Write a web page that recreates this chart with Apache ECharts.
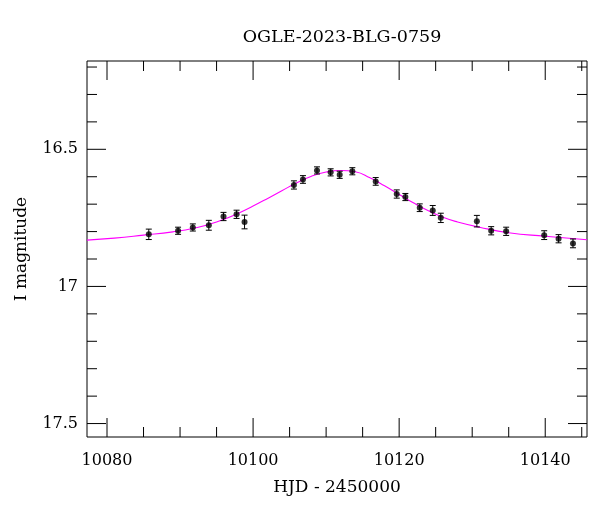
<!DOCTYPE html>
<html>
<head>
<meta charset="utf-8">
<script src="https://cdn.jsdelivr.net/npm/echarts@6/dist/echarts.min.js"></script>
<style>
html,body{margin:0;padding:0;background:#fff;}
#chart{width:600px;height:512px;}
</style>
</head>
<body>
<div id="chart"></div>
<script>
// ---- data ----
const obsTime = [10085.72, 10089.73, 10091.75, 10093.94, 10095.95, 10097.74, 10098.83,
  10105.59, 10106.83, 10108.75, 10110.62, 10111.86, 10113.59, 10116.79, 10119.67,
  10120.85, 10122.82, 10124.60, 10125.70, 10130.64, 10132.60, 10134.65, 10139.86,
  10141.83, 10143.80];
const obsMag = [16.810, 16.797, 16.785, 16.777, 16.745, 16.737, 16.765,
  16.630, 16.610, 16.577, 16.584, 16.593, 16.580, 16.617, 16.663,
  16.674, 16.713, 16.723, 16.750, 16.762, 16.797, 16.799, 16.813,
  16.826, 16.843];
const obsErr = [0.019, 0.013, 0.013, 0.018, 0.015, 0.015, 0.025,
  0.015, 0.014, 0.013, 0.013, 0.013, 0.013, 0.014, 0.015,
  0.013, 0.014, 0.018, 0.017, 0.021, 0.015, 0.015, 0.016,
  0.015, 0.016];

const modelTime = [10077.26, 10081, 10085, 10089, 10092, 10095, 10098, 10100, 10102,
  10104, 10106, 10108, 10110, 10112, 10114, 10116, 10118, 10120, 10122, 10124,
  10126, 10128, 10131, 10135, 10140, 10145.72];
const modelMag = [16.831, 16.824, 16.813, 16.801, 16.787, 16.765, 16.733, 16.707, 16.679,
  16.650, 16.622, 16.598, 16.583, 16.577, 16.582, 16.604, 16.633, 16.665, 16.696, 16.724,
  16.748, 16.765, 16.784, 16.804, 16.817, 16.830];

const xMajorTicks = [10080, 10100, 10120, 10140];
const xTickLabels = ['10080', '10100', '10120', '10140'];
const xMinorTicks = [10085, 10090, 10095, 10105, 10110, 10115, 10125, 10130, 10135, 10145];
const yMajorTicks = [16.5, 17, 17.5];
const yTickLabels = ['16.5', '17', '17.5'];
const yMinorTicks = [16.2, 16.3, 16.4, 16.6, 16.7, 16.8, 16.9, 17.1, 17.2, 17.3, 17.4];

const X_MIN = 10077.26, X_MAX = 10145.72;
const Y_MIN = 16.178, Y_MAX = 17.549;

// ---- style ----
const FONT = '"DejaVu Serif", serif';
const MAJOR_LEN = 19, MINOR_LEN = 10;

const obsData = obsTime.map((t, i) => [t, obsMag[i]]);
const errData = obsTime.map((t, i) => [t, obsMag[i], obsErr[i]]);
const modelData = modelTime.map((t, i) => [t, modelMag[i]]);
const xTickData = xMajorTicks.map((v, i) => [v, 1, i]).concat(xMinorTicks.map(v => [v, 0, -1]));
const yTickData = yMajorTicks.map((v, i) => [v, 1, i]).concat(yMinorTicks.map(v => [v, 0, -1]));

const lineStyle = {stroke: '#000', lineWidth: 1};

const chart = echarts.init(document.getElementById('chart'), null, {renderer: 'canvas'});
chart.setOption({
  backgroundColor: '#fff',
  animation: false,
  title: {
    text: 'OGLE-2023-BLG-0759',
    left: 337, top: 23, textAlign: 'center',
    textStyle: {fontFamily: FONT, fontSize: 17.5, fontWeight: 'normal', color: '#000'}
  },
  grid: {left: 87, right: 13, top: 61, bottom: 75, show: true, borderColor: '#000', borderWidth: 1, backgroundColor: 'transparent'},
  xAxis: {
    type: 'value', min: X_MIN, max: X_MAX,
    axisLine: {show: false}, axisTick: {show: false}, axisLabel: {show: false}, splitLine: {show: false},
    name: 'HJD - 2450000', nameLocation: 'middle', nameGap: 42,
    nameTextStyle: {fontFamily: FONT, fontSize: 17, color: '#000'}
  },
  yAxis: {
    type: 'value', min: Y_MIN, max: Y_MAX, inverse: true,
    axisLine: {show: false}, axisTick: {show: false}, axisLabel: {show: false}, splitLine: {show: false},
    name: 'I magnitude', nameLocation: 'middle', nameGap: 57,
    nameTextStyle: {fontFamily: FONT, fontSize: 17, color: '#000'}
  },
  series: [
    {
      type: 'line', data: modelData, smooth: 0.5, showSymbol: false,
      lineStyle: {color: '#ff00ff', width: 1.1}, z: 2, silent: true
    },
    {
      type: 'custom', data: errData, z: 3, silent: true,
      renderItem: function (params, api) {
        const t = api.value(0), m = api.value(1), e = api.value(2);
        const p1 = api.coord([t, m - e]);
        const p2 = api.coord([t, m + e]);
        const w = 3;
        return {type: 'group', children: [
          {type: 'line', shape: {x1: p1[0], y1: p1[1], x2: p2[0], y2: p2[1]}, style: lineStyle},
          {type: 'line', shape: {x1: p1[0] - w, y1: p1[1], x2: p1[0] + w, y2: p1[1]}, style: lineStyle},
          {type: 'line', shape: {x1: p2[0] - w, y1: p2[1], x2: p2[0] + w, y2: p2[1]}, style: lineStyle}
        ]};
      }
    },
    {
      type: 'scatter', data: obsData, symbol: 'circle', symbolSize: 6,
      itemStyle: {color: '#000'}, z: 4, silent: true
    },
    {
      type: 'custom', data: xTickData, clip: false, z: 5, silent: true,
      renderItem: function (params, api) {
        const v = api.value(0), major = api.value(1), li = api.value(2);
        const cs = params.coordSys;
        const x = api.coord([v, Y_MIN])[0];
        const top = cs.y, bot = cs.y + cs.height;
        const len = major ? MAJOR_LEN : MINOR_LEN;
        const children = [
          {type: 'line', shape: {x1: x, y1: bot, x2: x, y2: bot - len}, style: lineStyle},
          {type: 'line', shape: {x1: x, y1: top, x2: x, y2: top + len}, style: lineStyle}
        ];
        if (major) {
          children.push({type: 'text', style: {text: xTickLabels[li], x: x, y: bot + 24,
            align: 'center', verticalAlign: 'middle', font: '16px ' + FONT, fill: '#000'}});
        }
        return {type: 'group', children: children};
      }
    },
    {
      type: 'custom', data: yTickData, clip: false, z: 5, silent: true,
      renderItem: function (params, api) {
        const v = api.value(0), major = api.value(1), li = api.value(2);
        const cs = params.coordSys;
        const y = api.coord([X_MIN, v])[1];
        const left = cs.x, right = cs.x + cs.width;
        const len = major ? MAJOR_LEN : MINOR_LEN;
        const children = [
          {type: 'line', shape: {x1: left, y1: y, x2: left + len, y2: y}, style: lineStyle},
          {type: 'line', shape: {x1: right, y1: y, x2: right - len, y2: y}, style: lineStyle}
        ];
        if (major) {
          children.push({type: 'text', style: {text: yTickLabels[li], x: left - 9, y: y,
            align: 'right', verticalAlign: 'middle', font: '16px ' + FONT, fill: '#000'}});
        }
        return {type: 'group', children: children};
      }
    }
  ]
});
</script>
</body>
</html>
